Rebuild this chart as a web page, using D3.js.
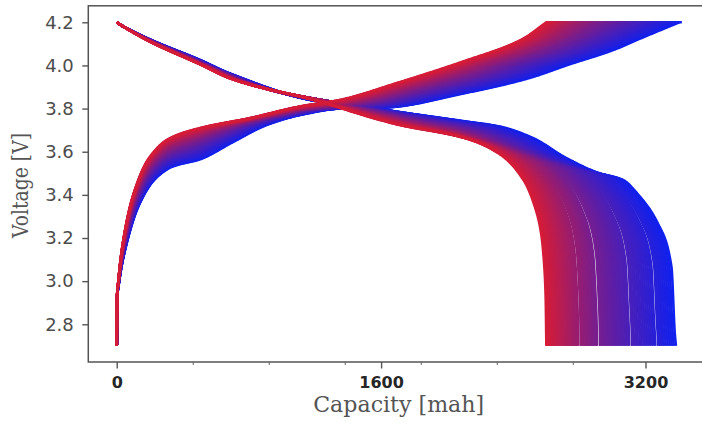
<!DOCTYPE html>
<html><head><meta charset="utf-8">
<script src="https://cdn.jsdelivr.net/npm/d3@7"></script>
<style>html,body{margin:0;padding:0;background:#fff;overflow:hidden}</style>
</head><body>
<svg id="chart" width="702" height="423"></svg>
<script>
// ---- data ----
// discharge capacity of each cycle (mAh), first (blue) to last (red)
const cycleCapacity = [
  3384, 3371, 3359, 3347, 3335, 3323, 3311, 3300, 3289, 3278,
  3260, 3248, 3236, 3224, 3212, 3200, 3189, 3177, 3166, 3154, 3143, 3131, 3120,
  3102, 3091, 3080, 3069, 3058, 3048, 3038, 3027, 3017, 3007, 2997, 2986, 2976, 2966, 2956, 2946, 2936, 2926,
  2907, 2898, 2889, 2881, 2873, 2865, 2857, 2849, 2841, 2833, 2825, 2817, 2809,
  2793, 2785, 2777, 2769, 2761, 2753, 2746, 2738, 2730, 2723, 2715, 2707, 2700, 2692, 2684, 2677,
  2669, 2661, 2654, 2646, 2638, 2631, 2623, 2615, 2608, 2600
];
// first-cycle charge curve
const chargeFirstCap = [0, 2, 15, 52, 133, 234, 335, 505, 704, 908, 1109, 1350, 1630, 2097, 2490, 2740, 3000, 3200, 3405];
const chargeFirstV   = [2.70, 2.90, 3.00, 3.15, 3.35, 3.475, 3.53, 3.565, 3.645, 3.724, 3.77, 3.80, 3.805, 3.87, 3.94, 4.005, 4.07, 4.135, 4.20];
// last-cycle charge curve
const chargeLastCap = [0, 1, 10, 40, 100, 195, 315, 505, 807, 1109, 1350, 1693, 2095, 2450, 2600];
const chargeLastV   = [2.70, 2.90, 3.00, 3.19, 3.40, 3.57, 3.66, 3.71, 3.756, 3.81, 3.84, 3.918, 4.018, 4.12, 4.20];
// first-cycle discharge curve
const dischargeFirstCap = [0, 30, 202, 505, 686, 1230, 1490, 1693, 2116, 2317, 2518, 2720, 2921, 3062, 3157, 3277, 3357, 3377, 3384];
const dischargeFirstV   = [4.20, 4.185, 4.12, 4.025, 3.962, 3.832, 3.81, 3.786, 3.74, 3.717, 3.664, 3.571, 3.50, 3.47, 3.40, 3.264, 3.066, 2.76, 2.70];
// last-cycle discharge curve
const dischargeLastCap = [0, 30, 202, 505, 686, 1230, 1491, 1693, 2116, 2325, 2467, 2527, 2567, 2587, 2596, 2600];
const dischargeLastV   = [4.20, 4.185, 4.11, 4.005, 3.94, 3.832, 3.77, 3.727, 3.661, 3.585, 3.462, 3.353, 3.228, 3.075, 2.92, 2.70];

const xTickValues = [0, 1600, 3200];
const xMinorTicks = [460, 920, 1380, 1840, 2300, 2760];
const yTickValues = [2.8, 3.0, 3.2, 3.4, 3.6, 3.8, 4.0, 4.2];
const xTitle = "Capacity [mah]";
const yTitle = "Voltage [V]";
const colorFirst = "#1020ee";
const colorLast = "#d41c38";

// ---- layout ----
const plot = {left: 88.3, right: 703, top: 5.8, bottom: 362};
const svg = d3.select("#chart");

const x = d3.scaleLinear().domain([-172, 3548]).range([plot.left, plot.right]);
const y = d3.scaleLinear().domain([2.6252, 4.2765]).range([plot.bottom, plot.top]);

// monotone cubic (Fritsch-Butland) through reference points
function monotone(xs, ys) {
  const n = xs.length, h = [], d = [], m = new Array(n);
  for (let i = 0; i < n - 1; i++) { h[i] = xs[i+1] - xs[i]; d[i] = (ys[i+1] - ys[i]) / h[i]; }
  m[0] = d[0]; m[n-1] = d[n-2];
  for (let i = 1; i < n - 1; i++) {
    if (d[i-1] * d[i] <= 0) m[i] = 0;
    else {
      const w1 = 2*h[i] + h[i-1], w2 = h[i] + 2*h[i-1];
      m[i] = (w1 + w2) / (w1 / d[i-1] + w2 / d[i]);
    }
  }
  const bis = d3.bisector(v => v).right;
  return t => {
    let i = Math.min(Math.max(bis(xs, t) - 1, 0), n - 2);
    const hh = h[i], s = (t - xs[i]) / hh;
    const s2 = s*s, s3 = s2*s;
    return (2*s3 - 3*s2 + 1)*ys[i] + (s3 - 2*s2 + s)*hh*m[i] + (-2*s3 + 3*s2)*ys[i+1] + (s3 - s2)*hh*m[i+1];
  };
}
const norm = arr => arr.map(v => v / arr[arr.length - 1]);
const fCF = monotone(norm(chargeFirstCap), chargeFirstV);
const fCL = monotone(norm(chargeLastCap), chargeLastV);
const fDF = monotone(norm(dischargeFirstCap), dischargeFirstV);
const fDL = monotone(norm(dischargeLastCap), dischargeLastV);

const qs = Array.from(new Set([
  ...d3.range(0, 1, 0.002), ...d3.range(0, 0.03, 0.0002), ...d3.range(0.97, 1, 0.0002), 1
].map(v => +v.toFixed(5)))).sort((a, b) => a - b);

const capFirst = cycleCapacity[0], capLast = cycleCapacity[cycleCapacity.length - 1];
const chargeExtraFirst = chargeFirstCap[chargeFirstCap.length-1] - capFirst;
const color = d3.interpolateRgb(colorFirst, colorLast);
const line = d3.line().x(d => x(d[0])).y(d => y(d[1]));

const g = svg.append("g");
const N = cycleCapacity.length;
cycleCapacity.forEach((c, i) => {
  const w = (capFirst - c) / (capFirst - capLast);
  const chargeEnd = c + chargeExtraFirst * (1 - w);
  const charge = qs.map(q => [q * chargeEnd, (1 - w) * fCF(q) + w * fCL(q)]);
  charge.push([chargeEnd + 15, 4.2]);
  const discharge = qs.map(q => [q * c, (1 - w) * fDF(q) + w * fDL(q)]);
  const col = color(i / (N - 1));
  g.append("path").attr("d", line(charge)).attr("fill", "none")
    .attr("stroke", col).attr("stroke-width", 2.6);
  g.append("path").attr("d", line(discharge)).attr("fill", "none")
    .attr("stroke", col).attr("stroke-width", 2.6);
});

// frame
svg.append("rect").attr("x", plot.left).attr("y", plot.top)
  .attr("width", plot.right - plot.left).attr("height", plot.bottom - plot.top)
  .attr("fill", "none").attr("stroke", "#555").attr("stroke-width", 1.5);

// y axis
const yAxis = svg.append("g").attr("transform", `translate(${plot.left},0)`)
  .call(d3.axisLeft(y).tickValues(yTickValues).tickSize(6).tickPadding(8.5).tickFormat(d3.format(".1f")));
yAxis.select(".domain").remove();
yAxis.selectAll("line").attr("stroke", "#555").attr("stroke-width", 1.4);
yAxis.selectAll("text").attr("font-family", "DejaVu Sans").attr("font-size", 18).attr("fill", "#4d4d4d");

// x axis
const xAxis = svg.append("g").attr("transform", `translate(0,${plot.bottom})`)
  .call(d3.axisBottom(x).tickValues(xTickValues).tickSize(6.5).tickPadding(8.6).tickFormat(d3.format("d")));
xAxis.select(".domain").remove();
xAxis.selectAll("line").attr("stroke", "#555").attr("stroke-width", 1.4);
xAxis.selectAll("text").attr("font-family", "DejaVu Sans").attr("font-weight", "bold")
  .attr("font-size", 16).attr("fill", "#262626");
const xMinor = svg.append("g").attr("transform", `translate(0,${plot.bottom})`)
  .call(d3.axisBottom(x).tickValues(xMinorTicks).tickSize(3).tickFormat(""));
xMinor.select(".domain").remove();
xMinor.selectAll("line").attr("stroke", "#666").attr("stroke-width", 1);

// titles
svg.append("text").attr("x", 398.7).attr("y", 412).attr("text-anchor", "middle")
  .attr("font-family", "DejaVu Serif").attr("font-size", 22).attr("fill", "#555")
  .attr("textLength", 171).attr("lengthAdjust", "spacingAndGlyphs").text(xTitle);
svg.append("text").attr("transform", "translate(28,185.5) rotate(-90)").attr("text-anchor", "middle")
  .attr("font-family", "DejaVu Serif").attr("font-size", 22).attr("fill", "#555")
  .attr("textLength", 105).attr("lengthAdjust", "spacingAndGlyphs").text(yTitle);
</script>
</body></html>
